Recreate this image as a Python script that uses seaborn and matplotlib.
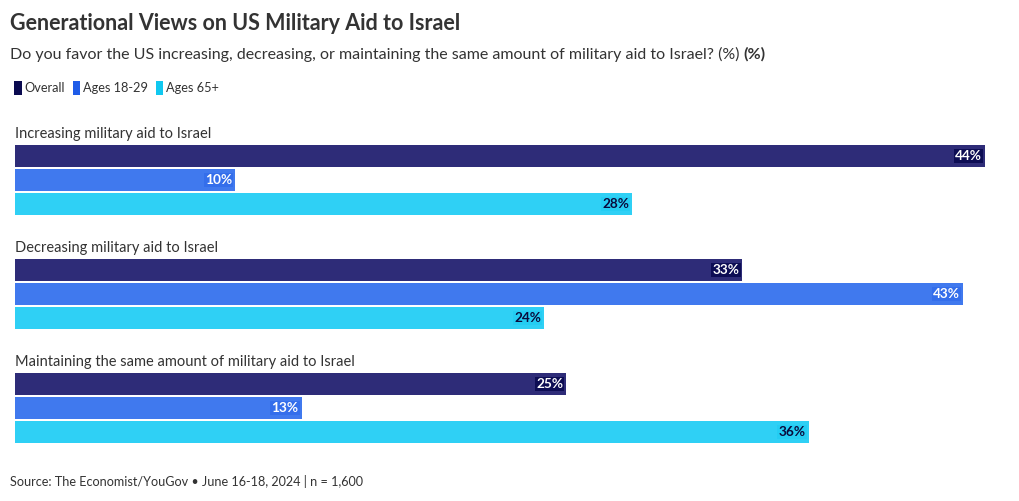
import matplotlib
matplotlib.use("Agg")
import matplotlib.pyplot as plt
from matplotlib.patches import Patch
import seaborn as sns
import pandas as pd

# Data
questions = ["Increasing military aid to Israel",
             "Decreasing military aid to Israel",
             "Maintaining the same amount of military aid to Israel"]
groups = ["Overall", "Ages 18-29", "Ages 65+"]
overall = [44, 33, 25]
ages_18_29 = [10, 43, 13]
ages_65_plus = [28, 24, 36]

bar_colors = ["#2e2c78", "#4079ee", "#2fd0f5"]
key_colors = ["#0a0a50", "#1f5ce8", "#10c8f0"]
label_text = ["white", "white", "#0a0a3c"]

rows = []
for g, vals in zip(groups, [overall, ages_18_29, ages_65_plus]):
    for q, v in zip(questions, vals):
        rows.append({"question": q, "group": g, "value": v})
df = pd.DataFrame(rows)

sns.set_style("white")
plt.rcParams['font.family'] = ['Lato', 'DejaVu Sans']

fig = plt.figure(figsize=(10.2, 5.01), dpi=100)
ax = fig.add_axes([15 / 1020, 1 - 465 / 501, 970 / 1020, 342 / 501])

sns.barplot(data=df, x="value", y="question", hue="group", orient="h",
            hue_order=groups, palette=bar_colors, width=0.632, gap=0.12,
            saturation=1, legend=False, linewidth=0, ax=ax)

ax.set_xlim(0, 44)
ax.set_ylim(2.5, -0.5)
ax.set_xlabel("")
ax.set_ylabel("")
ax.set_xticks([])
ax.set_yticks([])
sns.despine(ax=ax, left=True, bottom=True)

# value labels at bar ends
for i, cont in enumerate(ax.containers):
    for p in cont.patches:
        w = p.get_width()
        yc = p.get_y() + p.get_height() / 2
        ax.text(w - 0.14, yc, f"{w:.0f}%", ha="right", va="center",
                fontsize=9.8, fontweight="bold", color=label_text[i],
                bbox=dict(boxstyle="square,pad=0.08", fc=key_colors[i], ec="none",
                          alpha=0.35 if i else 0.9))

# question labels above each group
for i, q in enumerate(questions):
    ax.text(0, i - 0.405, q, ha="left", va="center", fontsize=10.5, color="#333333")

# titles
fig.text(10 / 1020, 1 - 23 / 501, "Generational Views on US Military Aid to Israel",
         fontsize=15.5, fontweight="bold", color="#333333", va="center")
sub = fig.text(10 / 1020, 1 - 54 / 501,
               "Do you favor the US increasing, decreasing, or maintaining the same amount of military aid to Israel? (%) ",
               fontsize=11.5, color="#333333", va="center")
fig.canvas.draw()
bb = sub.get_window_extent()
fig.text(bb.x1 / 1020, 1 - 54 / 501, "(%)", fontsize=11.5, fontweight="bold",
         color="#333333", va="center")

handles = [Patch(facecolor=c, edgecolor="none", label=g) for c, g in zip(key_colors, groups)]
fig.legend(handles=handles, loc="center left", bbox_to_anchor=(3 / 1020, 1 - 88 / 501),
           ncol=3, frameon=False, fontsize=9.2, handlelength=0.55, handleheight=1.2,
           handletextpad=0.25, columnspacing=0.6, labelcolor="#333333")

fig.text(10 / 1020, 1 - 482 / 501, "Source: The Economist/YouGov \u2022 June 16-18, 2024 | n = 1,600",
         fontsize=9.1, color="#333333", va="center")

fig.savefig("out.png", dpi=100)
